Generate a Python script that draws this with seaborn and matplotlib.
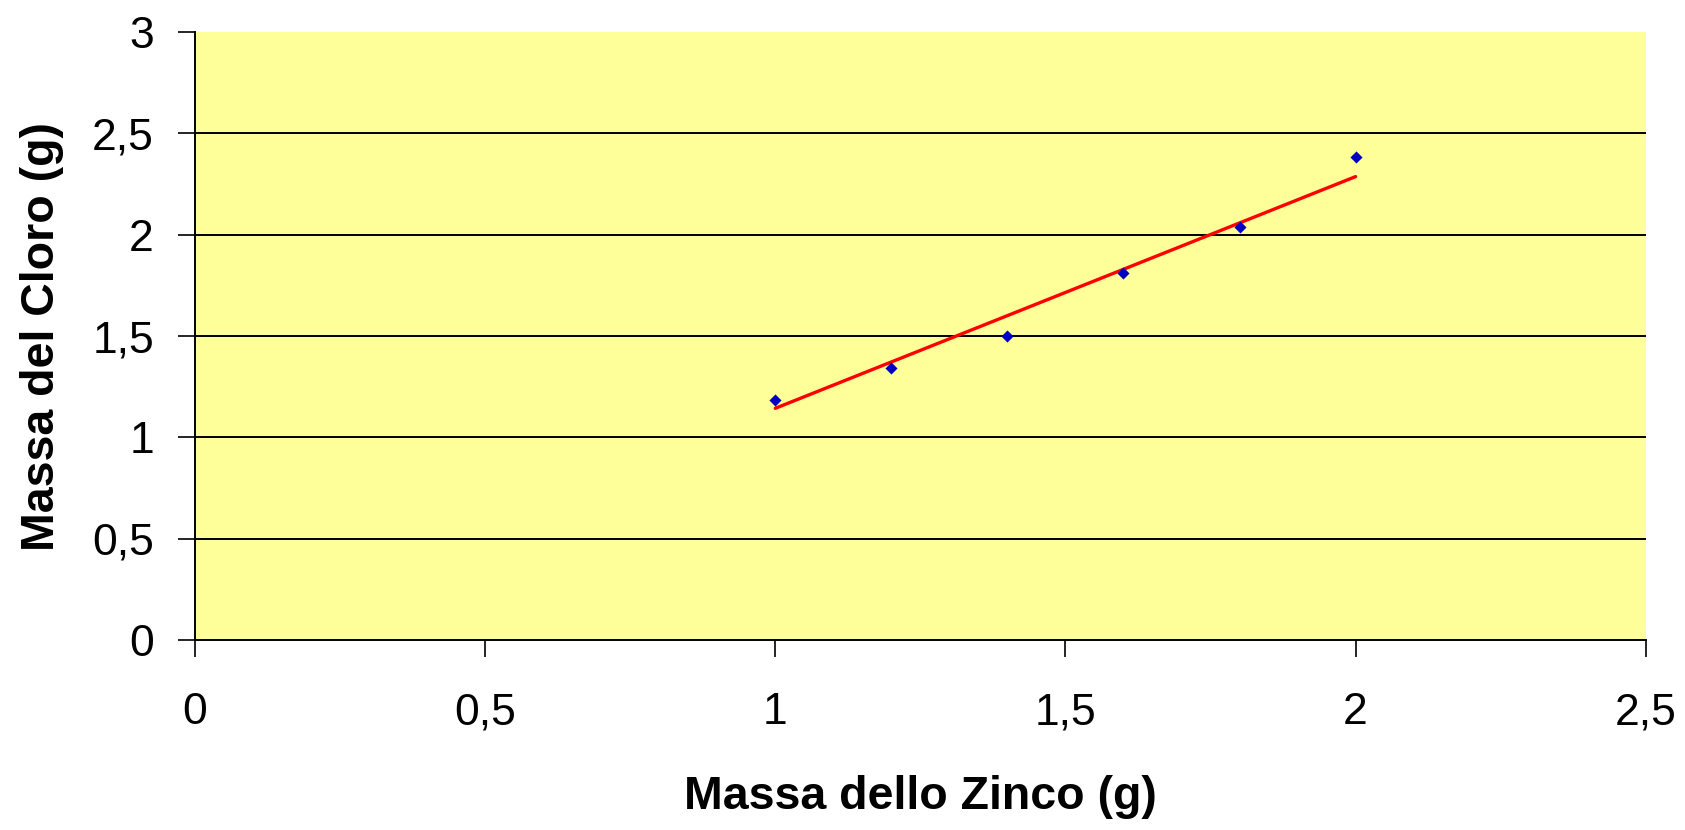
import numpy as np
import pandas as pd
import matplotlib
matplotlib.use("Agg")
import matplotlib.pyplot as plt
import seaborn as sns
from matplotlib.ticker import FuncFormatter

# Data
zinco = [1.0, 1.2, 1.4, 1.6, 1.8, 2.0]
cloro = [1.186, 1.343, 1.50, 1.812, 2.039, 2.384]
x_ticks = [0, 0.5, 1, 1.5, 2, 2.5]
y_ticks = [0, 0.5, 1, 1.5, 2, 2.5, 3]
x_label = "Massa dello Zinco (g)"
y_label = "Massa del Cloro (g)"

sns.set_theme(style="white")
plt.rcParams['font.family'] = ['Liberation Sans', 'DejaVu Sans']
plt.rcParams['text.color'] = 'black'
plt.rcParams['axes.labelcolor'] = 'black'
plt.rcParams['xtick.color'] = 'black'
plt.rcParams['ytick.color'] = 'black'

df = pd.DataFrame({"x": zinco, "y": cloro})

# linear trend line through the origin (least squares)
xa = np.array(zinco); ya = np.array(cloro)
slope = (xa * ya).sum() / (xa * xa).sum()
trend = pd.DataFrame({"x": [xa.min(), xa.max()], "y": [slope * xa.min(), slope * xa.max()]})

fig = plt.figure(figsize=(16.85, 8.30), dpi=100)
ax = fig.add_axes([0.1157, 0.2289, 0.8610, 0.7325])
ax.set_facecolor("#FFFF99")

ax.set_xlim(0, 2.5)
ax.set_ylim(0, 3)
ax.set_xticks(x_ticks)
ax.set_yticks(y_ticks)
fmt = FuncFormatter(lambda v, p: ("%g" % v).replace(".", ","))
ax.xaxis.set_major_formatter(fmt)
ax.yaxis.set_major_formatter(fmt)

for yv in y_ticks[1:-1]:
    ax.axhline(yv, color="black", lw=1.4, zorder=1)

sns.lineplot(data=trend, x="x", y="y", ax=ax, color="#FF0000", lw=2.4, zorder=3)
sns.scatterplot(data=df, x="x", y="y", ax=ax, marker="D", s=38, color="#0000C0",
                edgecolor="#0000C0", linewidth=0, zorder=4)

for s in ["top", "right"]:
    ax.spines[s].set_visible(False)
for s in ["left", "bottom"]:
    ax.spines[s].set_color("black")
    ax.spines[s].set_linewidth(1.4)

ax.tick_params(axis="y", which="major", direction="out", length=12.5, width=1.2,
               color="black", labelsize=32, pad=17, left=True)
ax.tick_params(axis="x", which="major", direction="out", length=12.5, width=1.2,
               color="black", labelsize=32, pad=25, bottom=True)

ax.set_xlabel(x_label, fontsize=33.5, fontweight="bold", labelpad=30)
ax.set_ylabel(y_label, fontsize=33.5, fontweight="bold", labelpad=20)

fig.savefig("out.png", dpi=100, facecolor="white")
